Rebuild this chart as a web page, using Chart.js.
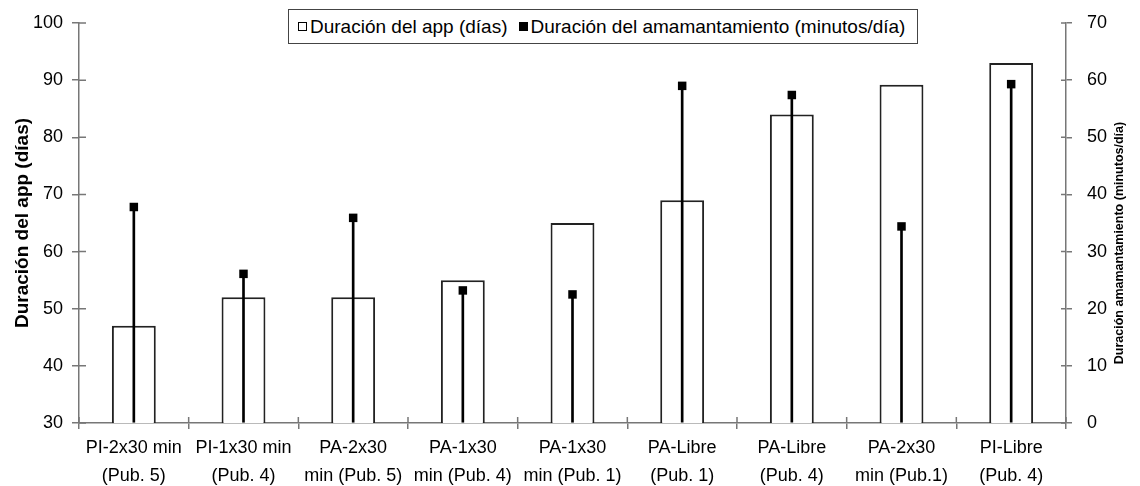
<!DOCTYPE html>
<html>
<head>
<meta charset="utf-8">
<script src="https://cdn.jsdelivr.net/npm/chart.js@4.4.1/dist/chart.umd.min.js"></script>
<style>
  html, body { margin: 0; padding: 0; background: #fff; }
  #wrap { position: relative; width: 1140px; height: 486px; }
  #legend {
    position: absolute; left: 288px; top: 9px; width: 628px; height: 33px;
    border: 1.5px solid #444; background: #fff;
    display: flex; align-items: center;
    font: 19px "Liberation Sans", Arial, sans-serif; color: #000;
  }
  #legend .box { display: inline-block; width: 7px; height: 7px; border: 1.2px solid #000; margin: 0 3px 0 0; }
  #legend .box.filled { background: #000; }
  #legend .item { display: flex; align-items: center; white-space: nowrap; }
</style>
</head>
<body>
<div id="wrap">
  <canvas id="chart" width="1140" height="486"></canvas>
  <div id="legend"></div>
</div>
<script>
const categories = [
  ["PI-2x30 min", "(Pub. 5)"],
  ["PI-1x30 min", "(Pub. 4)"],
  ["PA-2x30", "min (Pub. 5)"],
  ["PA-1x30", "min (Pub. 4)"],
  ["PA-1x30", "min (Pub. 1)"],
  ["PA-Libre", "(Pub. 1)"],
  ["PA-Libre", "(Pub. 4)"],
  ["PA-2x30", "min (Pub.1)"],
  ["PI-Libre", "(Pub. 4)"]
];
const appDays = [47, 52, 52, 55, 65, 69, 84, 89.2, 93];
const feedMinutes = [37.8, 26.1, 35.9, 23.2, 22.5, 59, 57.4, 34.4, 59.3];

const leftRange = [30, 100, 10];
const rightRange = [0, 70, 10];

const appLabel = "Duración del app (días)";
const feedLabel = "Duración del amamantamiento (minutos/día)";
const leftTitle = "Duración del app (días)";
const rightTitle = "Duración amamantamiento (minutos/día)";

const axisGray = "#777";
const font = "'Liberation Sans', Arial, sans-serif";

// tick marks in the reference cross the axis; Chart.js only draws the outer half
const innerTicks = {
  id: "innerTicks",
  afterDraw(chart) {
    const { ctx, chartArea: area, scales: { x, y, y1 } } = chart;
    ctx.save();
    ctx.strokeStyle = axisGray;
    ctx.lineWidth = 1.5;
    ctx.beginPath();
    y.ticks.forEach((_, i) => {
      const p = y.getPixelForTick(i);
      ctx.moveTo(area.left, p);
      ctx.lineTo(area.left + 7, p);
    });
    y1.ticks.forEach((_, i) => {
      const p = y1.getPixelForTick(i);
      ctx.moveTo(area.right - 5, p);
      ctx.lineTo(area.right, p);
    });
    const half = (x.getPixelForTick(1) - x.getPixelForTick(0)) / 2;
    for (let i = 0; i <= x.ticks.length; i++) {
      const p = x.getPixelForTick(0) - half + i * half * 2;
      ctx.moveTo(p, area.bottom - 6);
      ctx.lineTo(p, area.bottom);
    }
    ctx.stroke();

    // right axis title reads bottom-to-top like the left one
    ctx.translate(1120, 243);
    ctx.rotate(-Math.PI / 2);
    ctx.font = `bold 12.5px ${font}`;
    ctx.fillStyle = "#000";
    ctx.textAlign = "center";
    ctx.textBaseline = "middle";
    ctx.fillText(rightTitle, 0, 0);
    ctx.restore();
  }
};

function axisGrid() {
  return { drawOnChartArea: false, drawTicks: true, tickLength: 6, color: axisGray, lineWidth: 1.5 };
}

// fixed box sizes so the plot area lands where the reference has it
function fixBox(width, height) {
  return (s) => {
    if (width) s.width = width;
    if (height) s.height = height;
    s.paddingTop = 0;
    s.paddingBottom = 0;
    s.paddingLeft = 0;
    s.paddingRight = 0;
  };
}

const chart = new Chart(document.getElementById("chart"), {
  type: "bar",
  data: {
    labels: categories,
    datasets: [
      {
        type: "line",
        label: feedLabel,
        data: feedMinutes,
        yAxisID: "y1",
        showLine: false,
        pointStyle: "rect",
        pointRadius: 6,
        pointBackgroundColor: "#000",
        pointBorderWidth: 0,
        order: 0
      },
      {
        label: "stems",
        data: feedMinutes,
        yAxisID: "y1",
        backgroundColor: "#000",
        barThickness: 2,
        grouped: false,
        order: 1
      },
      {
        label: appLabel,
        data: appDays,
        yAxisID: "y",
        backgroundColor: "#fff",
        borderColor: "#222",
        borderWidth: 2,
        barPercentage: 0.4,
        categoryPercentage: 1,
        grouped: false,
        order: 2
      }
    ]
  },
  options: {
    responsive: false,
    animation: false,
    events: [],
    devicePixelRatio: 1,
    layout: { padding: { top: 23, right: 0, bottom: 0, left: 0 } },
    plugins: { legend: { display: false }, tooltip: { enabled: false } },
    scales: {
      x: {
        offset: true,
        grid: { ...axisGrid(), offset: true },
        border: { color: axisGray, width: 1.5 },
        ticks: { color: "#000", font: { family: font, size: 18, lineHeight: 1.55 }, padding: 5, maxRotation: 0, autoSkip: false },
        afterFit: fixBox(0, 63)
      },
      y: {
        position: "left",
        min: leftRange[0], max: leftRange[1],
        grid: { ...axisGrid(), tickLength: 7 },
        border: { color: axisGray, width: 1.5 },
        ticks: { stepSize: leftRange[2], color: "#000", font: { family: font, size: 18 }, padding: 9 },
        title: { display: true, text: leftTitle, color: "#000", font: { family: font, size: 19, weight: "bold" }, padding: { top: 11, bottom: 0 } },
        afterFit: fixBox(79, 0)
      },
      y1: {
        position: "right",
        min: rightRange[0], max: rightRange[1],
        grid: axisGrid(),
        border: { color: axisGray, width: 1.5 },
        ticks: { stepSize: rightRange[2], color: "#000", font: { family: font, size: 18 }, padding: 15 },
        afterFit: fixBox(74, 0)
      }
    }
  },
  plugins: [innerTicks]
});

// html legend built from the two visible datasets
const legend = document.getElementById("legend");
[[appLabel, false, 9], [feedLabel, true, 11]].forEach(([text, filled, gap]) => {
  const item = document.createElement("span");
  item.className = "item";
  item.style.marginLeft = gap + "px";
  const box = document.createElement("span");
  box.className = filled ? "box filled" : "box";
  const label = document.createElement("span");
  label.textContent = text;
  item.append(box, label);
  legend.appendChild(item);
});
</script>
</body>
</html>
